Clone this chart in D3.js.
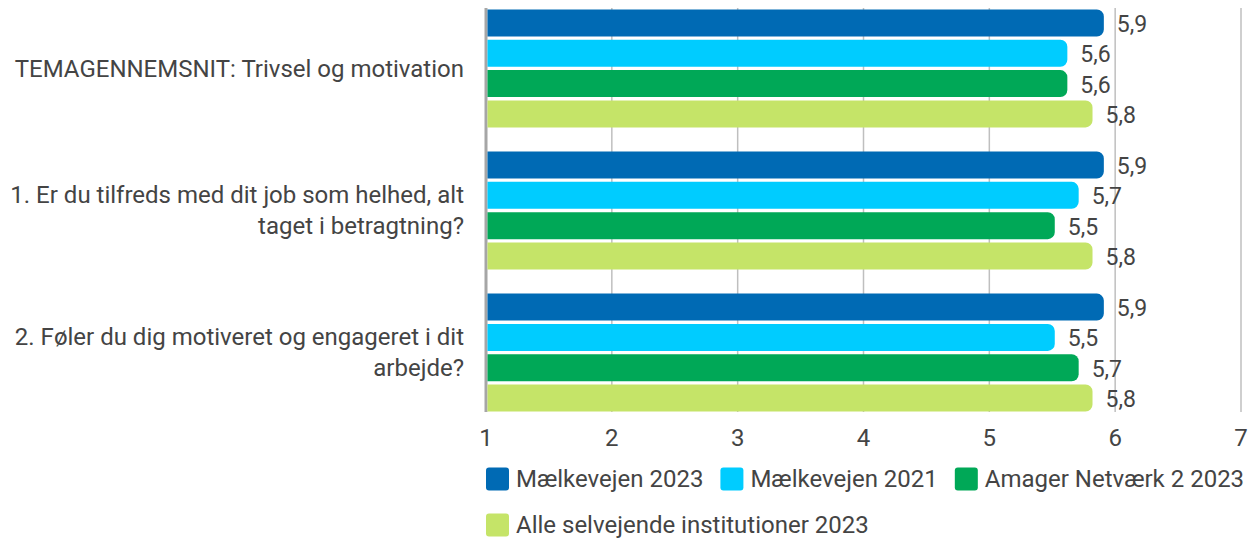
<!DOCTYPE html>
<html>
<head>
<meta charset="utf-8">
<script src="https://cdn.jsdelivr.net/npm/d3@7"></script>
<style>
  body { margin: 0; background: #fff; }
  text { font-family: Roboto, sans-serif; fill: #444; }
</style>
</head>
<body>
<svg width="1256" height="539"></svg>
<script>
// categories (each entry is a list of label lines)
var categories = [
  ["TEMAGENNEMSNIT: Trivsel og motivation"],
  ["1. Er du tilfreds med dit job som helhed, alt", "taget i betragtning?"],
  ["2. Føler du dig motiveret og engageret i dit", "arbejde?"]
];
var seriesNames = ["Mælkevejen 2023", "Mælkevejen 2021", "Amager Netværk 2 2023", "Alle selvejende institutioner 2023"];
var seriesColors = ["#006ab4", "#00ccff", "#00a857", "#c5e468"];

// values per series, one per category
var maelk2023 = [5.91, 5.91, 5.91];
var maelk2021 = [5.62, 5.71, 5.52];
var amager2023 = [5.62, 5.52, 5.71];
var alleSelv2023 = [5.82, 5.82, 5.82];
var seriesValues = [maelk2023, maelk2021, amager2023, alleSelv2023];

var xTicks = [1, 2, 3, 4, 5, 6, 7];

var svg = d3.select("svg");

var x = d3.scaleLinear().domain([1, 7]).range([486, 1241]);
var y = d3.scaleBand().domain(d3.range(categories.length)).range([9.5, 411.5]).paddingInner(0.17).paddingOuter(0);
var ySub = d3.scaleBand().domain(d3.range(seriesNames.length)).range([0, y.bandwidth()]).paddingInner(0.11);

// gridlines
svg.append("g")
  .selectAll("line")
  .data(xTicks)
  .enter()
  .append("line")
    .attr("x1", function(d){ return x(d) })
    .attr("x2", function(d){ return x(d) })
    .attr("y1", 8)
    .attr("y2", 412)
    .attr("stroke", function(d){ return d == 1 ? "#a6a6a6" : "#bfbfbf" })
    .attr("stroke-width", function(d){ return d == 1 ? 3 : 1.5 })

// bars, rounded at the right end only
function barPath(x0, x1, y0, h, r) {
  return "M" + x0 + "," + y0 + "H" + (x1 - r) +
    "A" + r + "," + r + " 0 0 1 " + x1 + "," + (y0 + r) +
    "V" + (y0 + h - r) +
    "A" + r + "," + r + " 0 0 1 " + (x1 - r) + "," + (y0 + h) +
    "H" + x0 + "Z";
}

var rows = [];
categories.forEach(function(c, ci){
  seriesValues.forEach(function(vals, si){
    rows.push({cat: ci, s: si, v: vals[ci]});
  });
});

var bars = svg.append("g");
bars.selectAll("path")
  .data(rows)
  .enter()
  .append("path")
    .attr("d", function(d){ return barPath(x(1) + 1.5, x(d.v), y(d.cat) + ySub(d.s), ySub.bandwidth(), 7) })
    .attr("fill", function(d){ return seriesColors[d.s] })

bars.selectAll("text")
  .data(rows)
  .enter()
  .append("text")
    .attr("x", function(d){ return x(d.v) + 13 })
    .attr("y", function(d){ return y(d.cat) + ySub(d.s) + ySub.bandwidth() / 2 + 1 })
    .attr("dy", "0.35em")
    .style("font-size", "23px")
    .text(function(d){ return d3.format(".1f")(d.v).replace(".", ",") })

// category labels
var catG = svg.append("g");
categories.forEach(function(lines, ci){
  var cy = y(ci) + y.bandwidth() / 2;
  var lh = 31;
  lines.forEach(function(line, li){
    catG.append("text")
      .attr("x", 464)
      .attr("y", cy + (li - (lines.length - 1) / 2) * lh)
      .attr("dy", "0.35em")
      .attr("text-anchor", "end")
      .style("font-size", "24px")
      .text(line);
  });
});

// x tick labels
svg.append("g")
  .selectAll("text")
  .data(xTicks)
  .enter()
  .append("text")
    .attr("x", function(d){ return x(d) })
    .attr("y", 438)
    .attr("dy", "0.35em")
    .attr("text-anchor", "middle")
    .style("font-size", "24px")
    .text(function(d){ return d })

// legend, wraps onto a new line when needed
var legend = svg.append("g");
var lx = 486, ly = 479, sq = 23;
seriesNames.forEach(function(name, i){
  var item = legend.append("g");
  item.append("rect")
    .attr("width", sq).attr("height", sq)
    .attr("rx", 3)
    .attr("y", -sq / 2)
    .attr("fill", seriesColors[i]);
  var t = item.append("text")
    .attr("x", sq + 7)
    .attr("dy", "0.35em")
    .style("font-size", "24px")
    .text(name);
  var w = sq + 7 + t.node().getComputedTextLength();
  if (lx + w > 1250) { lx = 486; ly += 46; }
  item.attr("transform", "translate(" + lx + "," + ly + ")");
  lx += w + 17;
});
</script>
</body>
</html>
